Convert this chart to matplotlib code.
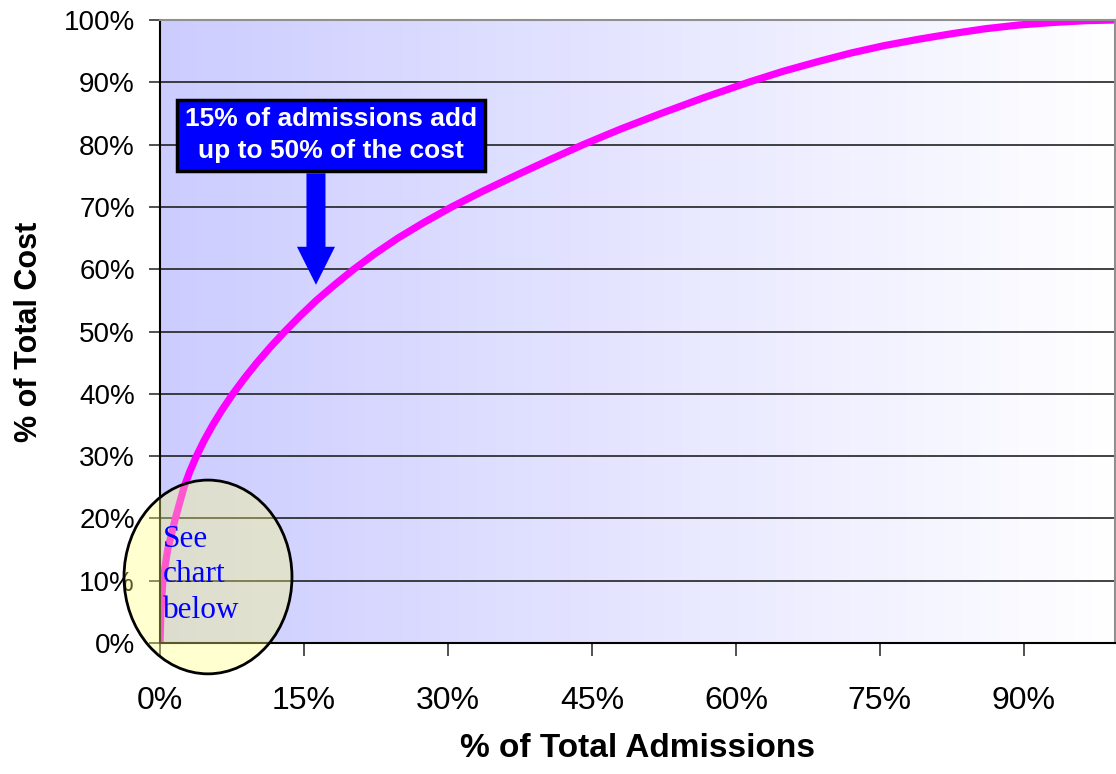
import matplotlib
matplotlib.use("Agg")
import matplotlib.pyplot as plt
import numpy as np
from matplotlib.patches import Ellipse, FancyArrow
from matplotlib.ticker import FuncFormatter

plt.rcParams['font.family'] = ['Liberation Sans', 'DejaVu Sans']

# 累计曲线：住院人次占比 -> 费用占比
admissions_pct = [0, 0.1, 0.3, 0.8, 1.6, 2.5, 3.1, 3.8, 4.6, 5.5, 6.5, 7.6, 8.8,
                  10.1, 11.5, 13.0, 14.6, 16.3, 18.2, 20.2, 22.4, 24.8, 27.5, 30.4,
                  33.6, 37.0, 40.5, 44.1, 48.0, 52.2, 56.6, 61.3, 65.0, 68.5, 72.0,
                  75.5, 79.0, 82.5, 86.0, 89.5, 93.0, 96.5, 99.5]
cost_pct = [0, 5, 10, 15, 20, 25, 27.5, 30, 32.5, 35, 37.5, 40, 42.5,
            45, 47.5, 50, 52.5, 55, 57.5, 60, 62.5, 65, 67.5, 70,
            72.5, 75, 77.5, 80, 82.5, 85, 87.5, 90, 91.8, 93.3, 94.7,
            95.9, 96.9, 97.8, 98.6, 99.2, 99.6, 99.9, 100]

x_ticks = [0, 15, 30, 45, 60, 75, 90]
y_ticks = [0, 10, 20, 30, 40, 50, 60, 70, 80, 90, 100]

X_MAX = 99.5

fig = plt.figure(figsize=(11.16, 7.74), dpi=100)
ax = fig.add_axes([160 / 1116, 1 - 643 / 774, 955 / 1116, 623 / 774])
ax.set_axisbelow(True)

# 背景渐变：左侧淡紫到右侧白色
grad = np.linspace(0, 1, 256).reshape(1, -1)
left_c = np.array([204, 204, 255]) / 255
right_c = np.array([255, 255, 255]) / 255
rgb = left_c[None, None, :] * (1 - grad[..., None]) + right_c[None, None, :] * grad[..., None]
ax.imshow(rgb, extent=[0, X_MAX, 0, 100], aspect='auto', zorder=0)

ax.plot(admissions_pct, cost_pct, color='#ff00ff', lw=5.2, solid_joinstyle='round',
        solid_capstyle='butt', zorder=2)

ax.set_xlim(0, X_MAX)
ax.set_ylim(0, 100)
ax.set_xticks(x_ticks)
ax.set_yticks(y_ticks)
pct = FuncFormatter(lambda v, _: f"{v:.0f}%")
ax.xaxis.set_major_formatter(pct)
ax.yaxis.set_major_formatter(pct)
ax.tick_params(axis='y', labelsize=20, length=8, width=1.2, pad=10, color='#333333')
ax.tick_params(axis='x', labelsize=23, length=9, width=1.2, pad=22, color='#333333')
ax.yaxis.grid(True, color='#222222', lw=1.2)

for side in ('left', 'bottom'):
    ax.spines[side].set_color('black')
    ax.spines[side].set_linewidth(1.5)
for side in ('top', 'right'):
    ax.spines[side].set_color('#909090')
    ax.spines[side].set_linewidth(1.5)

ax.set_xlabel('% of Total Admissions', fontsize=24, fontweight='bold', labelpad=12)
ax.set_ylabel('% of Total Cost', fontsize=22, fontweight='bold', labelpad=14)

# 说明框和向下箭头
ax.text(17.8, 81.5, '15% of admissions add\nup to 50% of the cost', color='white',
        fontsize=19, fontweight='bold', ha='center', va='center', linespacing=1.4,
        bbox=dict(boxstyle='square,pad=0.3', fc='#0000ff', ec='black', lw=2.5), zorder=5)
ax.add_patch(FancyArrow(16.25, 75.4, 0, -17.9, width=1.98, head_width=3.96,
                        head_length=6.1, length_includes_head=True,
                        color='#0000ff', lw=0, zorder=5))

# 左下角的半透明椭圆
ax.add_patch(Ellipse((5.0, 10.6), 17.5, 31.1, fc=(1, 1, 120 / 255, 0.35),
                     ec='black', lw=2, clip_on=False, zorder=3))
ax.text(0.3, 19.0, 'See\nchart\nbelow', color='#0000ff', fontsize=22.5,
        family=['Liberation Serif', 'DejaVu Serif'], ha='left', va='top',
        linespacing=1.3, zorder=4)

fig.savefig('out.png', dpi=100)
